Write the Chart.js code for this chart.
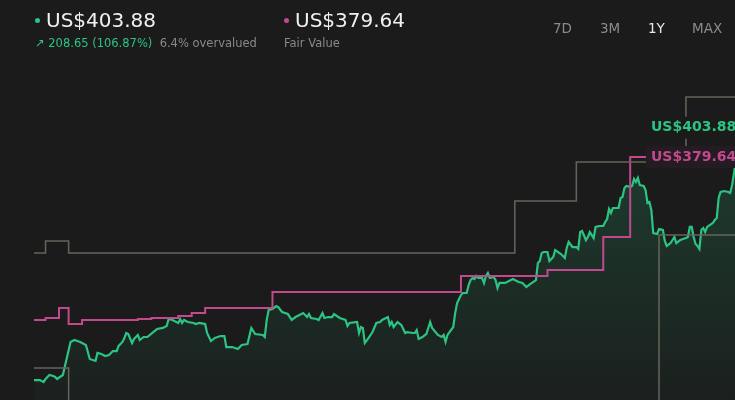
<!DOCTYPE html>
<html>
<head>
<meta charset="utf-8">
<script src="https://cdn.jsdelivr.net/npm/chart.js@4.4.1/dist/chart.umd.min.js"></script>
<style>
  html, body { margin: 0; padding: 0; background: #1b1b1b; overflow: hidden; }
  body { width: 735px; height: 400px; position: relative; font-family: 'DejaVu Sans', sans-serif; }
  #wrap { position: absolute; left: 0; top: 0; width: 735px; height: 400px; }
  .head { position: absolute; top: 8px; white-space: nowrap; }
  .big { font-size: 20px; color: #f0f0f0; }
  .dot { display: inline-block; width: 5px; height: 5px; border-radius: 50%; margin-right: 6px; vertical-align: 4px; }
  .sub { font-size: 11.5px; color: #8a8a8a; margin-top: 4px; }
  .up { color: #2bc483; }
  .tab { position: absolute; top: 20px; font-size: 13.5px; color: #8c8c8c; white-space: nowrap; }
  .tab.on { color: #e8e8e8; }
</style>
</head>
<body>
<div id="wrap"><canvas id="grafico" width="735" height="400"></canvas></div>
<div class="head" style="left:35px">
  <div class="big"><span class="dot" style="background:#2bc483"></span><span id="precio"></span></div>
  <div class="sub"><span class="up" id="cambio"></span>&nbsp;&nbsp;<span id="estado"></span></div>
</div>
<div class="head" style="left:284px">
  <div class="big"><span class="dot" style="background:#c2498d"></span><span id="justo"></span></div>
  <div class="sub">Fair Value</div>
</div>
<div id="tabs"></div>
<script>
const precioActual = 'US$403.88';
const valorJusto = 'US$379.64';
const cambioTexto = '↗ 208.65 (106.87%)';
const estadoTexto = '6.4% overvalued';
const periodos = ['7D', '3M', '1Y', 'MAX'];

// share price, day of the year
const priceDays = [0,3,5,6,8,10,11,12,15,19,21,24,27,29,32,33,35,37,39,41,
  43,44,46,47,48,49,51,52,54,55,57,59,62,64,67,69,70,72,75,76,
  77,78,80,83,84,86,89,90,92,94,97,99,100,103,106,108,111,113,115,119,
  120,121,122,124,126,127,129,132,134,136,140,142,143,144,147,148,150,151,153,155,
  156,159,162,163,164,168,169,170,171,172,174,176,178,180,181,183,184,185,186,187,
  189,191,193,194,197,198,199,200,202,204,206,207,210,212,213,214,215,218,219,220,
  222,223,225,226,227,228,229,230,231,233,234,235,236,237,239,240,241,242,245,249,
  252,254,256,258,261,262,263,264,265,267,268,270,271,274,276,277,278,280,282,283,
  284,285,287,288,289,291,292,294,296,297,298,299,300,301,302,304,305,306,307,308,
  310,311,312,313,314,315,317,318,319,320,321,322,324,325,327,328,329,331,332,333,
  334,336,339,340,341,342,343,344,345,346,347,348,349,350,353,354,355,356,357,359,
  361,362,363,364,367];
const priceValues = [195.2,195.2,193.6,196.1,199.4,198.5,197.7,196.1,199.4,226.7,228.3,226.7,224.2,212.6,211.0,217.6,216.8,215.1,215.9,219.2,
  219.2,223.4,226.7,230.0,234.1,233.3,225.8,229.2,232.5,228.3,230.8,230.8,234.9,237.4,238.3,239.9,245.7,244.9,242.4,245.7,
  242.4,244.9,243.2,242.4,241.5,242.4,241.5,234.1,227.5,230.0,231.6,231.6,222.5,222.5,220.9,224.2,225.0,238.3,233.3,232.5,
  230.8,244.9,253.1,254.0,256.4,255.6,251.5,249.8,244.9,247.3,250.6,247.3,249.8,246.5,245.7,244.9,250.6,246.5,247.3,247.3,
  249.8,246.5,244.9,239.9,242.4,243.2,234.1,239.1,238.3,225.8,230.0,234.9,242.4,243.2,244.9,246.5,247.3,240.7,243.2,239.1,
  243.2,240.7,234.1,234.9,234.1,234.1,236.6,229.2,230.8,233.3,243.2,238.3,232.5,230.8,232.5,226.7,232.5,239.1,250.6,258.9,
  265.5,267.2,267.2,273.8,277.9,279.6,278.8,281.2,279.6,279.6,275.5,281.2,283.7,279.6,280.4,277.9,271.3,275.5,275.5,278.8,
  276.3,275.5,272.1,274.6,277.9,292.0,293.7,300.3,301.1,301.1,293.7,297.0,302.7,299.4,296.1,304.4,309.4,305.2,305.2,303.6,
  317.6,318.5,311.0,313.5,317.6,312.7,321.8,322.6,322.6,325.9,328.4,336.7,333.4,337.5,337.5,337.5,345.8,346.6,354.0,355.7,
  354.9,355.7,361.5,359.0,362.3,356.5,355.7,352.4,341.6,342.4,335.8,316.8,316.0,320.1,319.3,310.2,306.1,308.5,311.0,313.5,
  308.5,311.0,312.7,313.5,321.8,321.8,313.5,307.7,306.1,303.6,319.3,320.9,317.6,321.8,325.1,327.6,329.2,345.8,350.7,351.5,
  350.7,349.9,356.5,366.4,403.88];

// fair value estimate (steps)
const fairDays = [0,6,13,18,25,54,61,75,82,89,124,222,267,296,310,367];
const fairValues = [244.9,246.5,254.8,241.5,244.9,245.7,246.5,248.2,250.6,254.8,268.0,281.2,286.2,313.5,379.64,379.64];

// analyst targets (steps)
const highDays = [0,6,18,250,282,339,367];
const highValues = [300.3,310.2,300.3,343.3,375.5,429.3,429.3];
const lowDays = [0,18,325,367];
const lowValues = [205.2,170.0,315.2,315.2];

const verde = '#2bc483';
const rosa = '#c2498d';
const gris = '#67655b';

function pares(dias, valores) {
    return dias.map((d, i) => ({ x: d, y: valores[i] }));
}

document.addEventListener('DOMContentLoaded', () => {
    document.getElementById('precio').textContent = precioActual;
    document.getElementById('justo').textContent = valorJusto;
    document.getElementById('cambio').textContent = cambioTexto;
    document.getElementById('estado').textContent = estadoTexto;
    const posTabs = [553, 600, 648, 692];
    document.getElementById('tabs').innerHTML = periodos.map((p, i) =>
        `<span class="tab${p === '1Y' ? ' on' : ''}" style="left:${posTabs[i]}px">${p}</span>`).join('');

    const etiquetas = {
        id: 'etiquetas',
        afterDatasetsDraw(chart) {
            const ctx = chart.ctx;
            const y = chart.scales.y;
            const x0 = chart.chartArea.right - 84;
            ctx.save();
            ctx.font = 'bold 14px "DejaVu Sans"';
            ctx.textBaseline = 'middle';
            const yv = y.getPixelForValue(403.88);
            ctx.fillStyle = '#1b1b1b';
            ctx.fillRect(x0 - 5, yv - 11, 100, 22);
            ctx.fillStyle = verde;
            ctx.fillText(precioActual, x0, yv);
            const yj = y.getPixelForValue(379.64);
            ctx.fillStyle = '#241c22';
            ctx.fillRect(x0 - 5, yj - 11, 100, 22);
            ctx.fillStyle = rosa;
            ctx.fillText(valorJusto, x0, yj);
            ctx.restore();
        }
    };

    const ctx = document.getElementById('grafico').getContext('2d');
    const relleno = ctx.createLinearGradient(0, 150, 0, 400);
    relleno.addColorStop(0, 'rgba(43,196,131,0.20)');
    relleno.addColorStop(1, 'rgba(43,196,131,0.03)');

    new Chart(ctx, {
        type: 'line',
        data: {
            datasets: [
                { data: pares(highDays, highValues), borderColor: gris, borderWidth: 1.5, stepped: true, pointRadius: 0, fill: false },
                { data: pares(lowDays, lowValues), borderColor: gris, borderWidth: 1.5, stepped: true, pointRadius: 0, fill: false },
                { data: pares(fairDays, fairValues), borderColor: rosa, borderWidth: 2, stepped: true, pointRadius: 0, fill: false },
                { data: pares(priceDays, priceValues), borderColor: verde, borderWidth: 2.2, pointRadius: 0, tension: 0, fill: 'start', backgroundColor: relleno }
            ]
        },
        options: {
            responsive: false,
            animation: false,
            layout: { padding: { left: 34, right: 0, top: 0, bottom: 0 } },
            plugins: { legend: { display: false }, tooltip: { enabled: false } },
            scales: {
                x: { type: 'linear', min: 0, max: 364.5, display: false },
                y: { min: 178.7, max: 509.5, display: false }
            }
        },
        plugins: [etiquetas]
    });
});
</script>
</body>
</html>
